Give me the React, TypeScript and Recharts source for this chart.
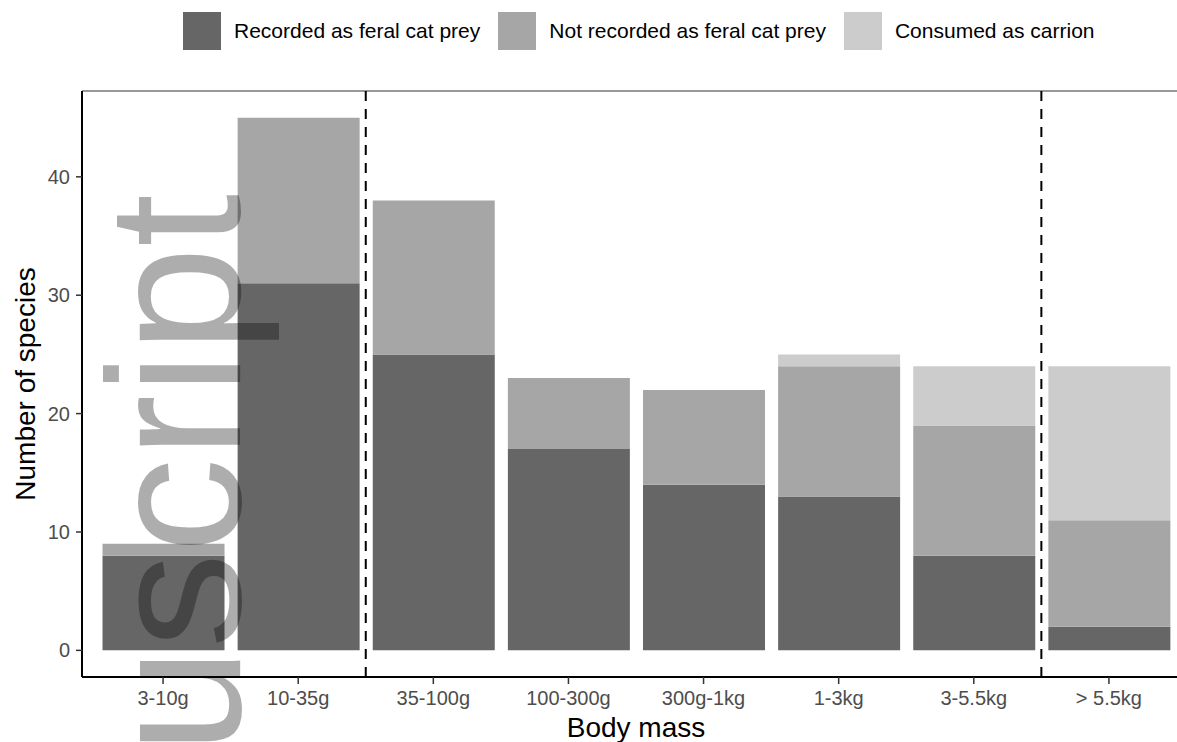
import React from 'react';
import { BarChart, Bar, XAxis, YAxis, ReferenceLine } from 'recharts';

const categories = ['3-10g', '10-35g', '35-100g', '100-300g', '300g-1kg', '1-3kg', '3-5.5kg', '> 5.5kg'];
const recorded = [8, 31, 25, 17, 14, 13, 8, 2];
const notRecorded = [1, 14, 13, 6, 8, 11, 11, 9];
const carrion = [0, 0, 0, 0, 0, 1, 5, 13];
const yTicks = [0, 10, 20, 30, 40];
const dividers = [1.5, 6.5];
const seriesKeys = ['recorded', 'notRecorded', 'carrion'];
const seriesNames = ['Recorded as feral cat prey', 'Not recorded as feral cat prey', 'Consumed as carrion'];
const seriesColors = ['#666666', '#a6a6a6', '#cccccc'];
const xTitle = 'Body mass';
const yTitle = 'Number of species';
const watermark = 'Manuscript';

const data = categories.map((c, i) => ({
  x: i,
  name: c,
  recorded: recorded[i],
  notRecorded: notRecorded[i],
  carrion: carrion[i],
}));

const FONT = '"Liberation Sans", Arial, Helvetica, sans-serif';

const YTitle = (props: any) => {
  const vb = props.viewBox || { x: 0, y: 91, width: 82, height: 586 };
  const cx = vb.x + 35;
  const cy = vb.y + vb.height / 2;
  return (
    <text
      transform={`translate(${cx},${cy}) rotate(-90)`}
      textAnchor="middle"
      fontSize={28}
      fontFamily={FONT}
      fill="#000"
    >
      {yTitle}
    </text>
  );
};

export default function App() {
  return (
    <div
      style={{
        position: 'absolute',
        left: 0,
        top: 0,
        width: 1177,
        height: 742,
        overflow: 'hidden',
        background: '#fff',
        fontFamily: FONT,
      }}
    >
      <div
        style={{
          position: 'absolute',
          left: 183,
          top: 12,
          display: 'flex',
          alignItems: 'center',
          height: 38,
        }}
      >
        {seriesNames.map((n, i) => (
          <div key={n} style={{ display: 'flex', alignItems: 'center', marginRight: i < seriesNames.length - 1 ? 18 : 0 }}>
            <div style={{ width: 38, height: 38, background: seriesColors[i] }} />
            <span style={{ marginLeft: 13, fontSize: 21, color: '#000', whiteSpace: 'nowrap' }}>{n}</span>
          </div>
        ))}
      </div>
      <div style={{ position: 'absolute', left: 0, top: 0 }}>
        <BarChart
          width={1200}
          height={742}
          data={data}
          margin={{ top: 91, right: 10, bottom: 0, left: 0 }}
          barCategoryGap="5%"
        >
          <XAxis
            dataKey="x"
            type="number"
            domain={[-0.6, 7.6]}
            ticks={[0, 1, 2, 3, 4, 5, 6, 7]}
            tickFormatter={(v: number) => categories[v] ?? ''}
            allowDataOverflow
            height={65}
            axisLine={{ stroke: '#000', strokeWidth: 2 }}
            tickLine={{ stroke: '#333', strokeWidth: 1.5 }}
            tickSize={7}
            tickMargin={7}
            tick={{ fill: '#4d4d4d', fontSize: 20, fontFamily: FONT }}
            interval={0}
            label={{ value: xTitle, position: 'insideBottom', offset: 5, fill: '#000', fontSize: 28, fontFamily: FONT }}
          />
          <YAxis
            type="number"
            domain={[-2.25, 47.25]}
            ticks={yTicks}
            allowDataOverflow
            width={82}
            axisLine={{ stroke: '#000', strokeWidth: 2 }}
            tickLine={{ stroke: '#333', strokeWidth: 1.5 }}
            tickSize={6}
            tickMargin={6}
            tick={{ fill: '#4d4d4d', fontSize: 20, fontFamily: FONT }}
            interval={0}
            label={<YTitle />}
          />
          <ReferenceLine y={47.25} stroke="#777" strokeWidth={1.5} />
          {seriesKeys.map((k, i) => (
            <Bar
              key={k}
              dataKey={k}
              name={seriesNames[i]}
              stackId="a"
              fill={seriesColors[i]}
              barSize={122}
              isAnimationActive={false}
            />
          ))}
          {dividers.map((d) => (
            <ReferenceLine key={d} x={d} stroke="#000" strokeWidth={2} strokeDasharray="10 8" />
          ))}
        </BarChart>
      </div>
      <svg
        width={1177}
        height={742}
        style={{ position: 'absolute', left: 0, top: 0, pointerEvents: 'none' }}
      >
        <text
          transform="translate(240,194) rotate(-90)"
          textAnchor="end"
          fontSize={190}
          fontFamily={FONT}
          fill="#000"
          fillOpacity={0.32}
        >
          {watermark}
        </text>
      </svg>
    </div>
  );
}
